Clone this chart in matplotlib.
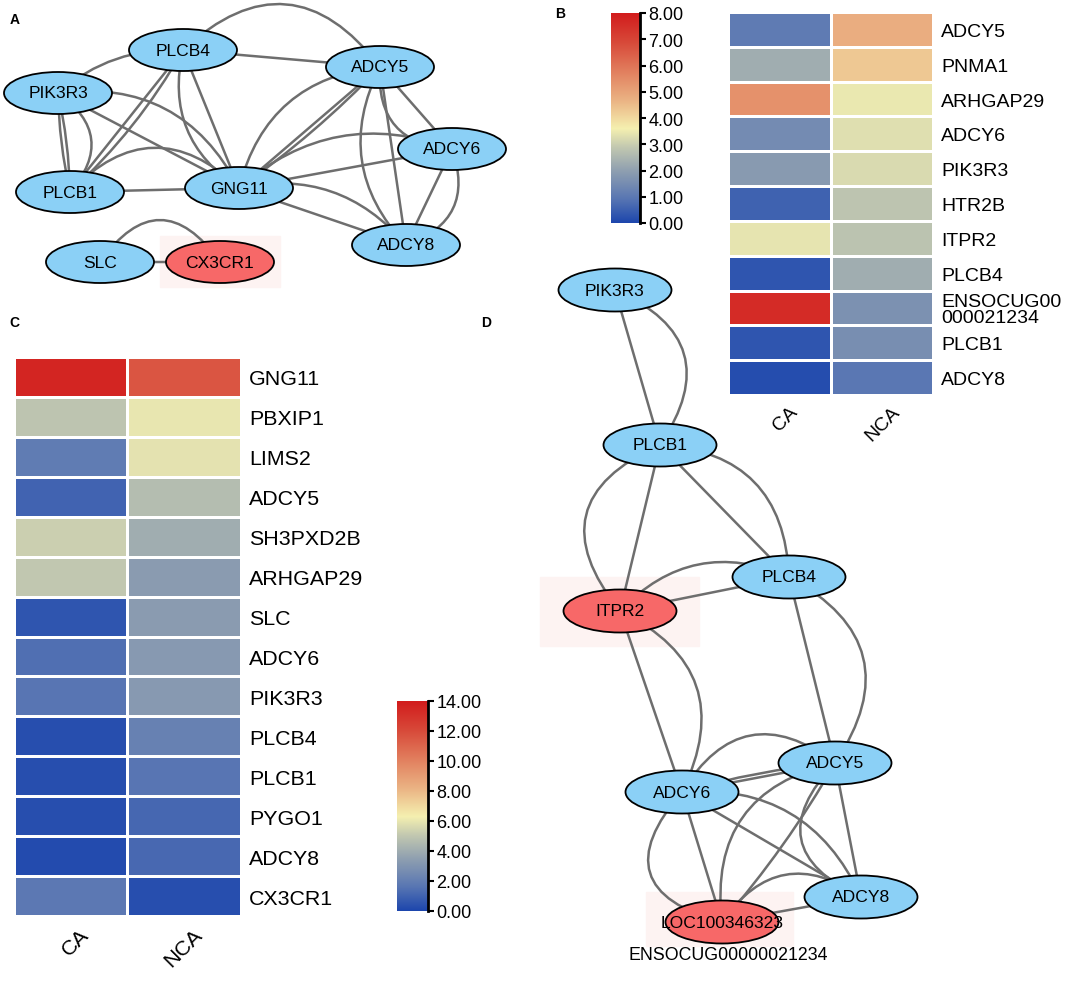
import numpy as np
import matplotlib
matplotlib.use('Agg')
from matplotlib import pyplot as plt
from matplotlib.colors import LinearSegmentedColormap
from matplotlib.patches import Ellipse, Rectangle, PathPatch
from matplotlib.path import Path
from matplotlib import transforms as mtransforms

plt.rcParams['font.family'] = ['Liberation Sans', 'DejaVu Sans']

W, H = 1084, 987

# ---- heatmap data ----
groups = ['CA', 'NCA']

genes_b = ['ADCY5', 'PNMA1', 'ARHGAP29', 'ADCY6', 'PIK3R3', 'HTR2B', 'ITPR2',
           'PLCB4', 'ENSOCUG00\n000021234', 'PLCB1', 'ADCY8']
ca_b = [1.05, 2.3, 5.4, 1.45, 1.85, 0.55, 3.4, 0.3, 7.6, 0.3, 0.15]
nca_b = [4.8, 4.3, 3.45, 3.3, 3.2, 2.8, 2.75, 2.3, 1.6, 1.55, 0.95]
ticks_b = [0, 1, 2, 3, 4, 5, 6, 7, 8]

genes_c = ['GNG11', 'PBXIP1', 'LIMS2', 'ADCY5', 'SH3PXD2B', 'ARHGAP29', 'SLC',
           'ADCY6', 'PIK3R3', 'PLCB4', 'PLCB1', 'PYGO1', 'ADCY8', 'CX3CR1']
ca_c = [13.6, 4.9, 1.9, 1.0, 5.3, 5.0, 0.5, 1.4, 1.6, 0.3, 0.3, 0.3, 0.2, 1.7]
nca_c = [11.6, 6.0, 5.9, 4.6, 4.0, 3.3, 3.3, 3.2, 3.2, 2.1, 1.6, 1.1, 1.2, 0.3]
ticks_c = [0, 2, 4, 6, 8, 10, 12, 14]

# ---- network data (layout positions in pixels) ----
nodes_a = {'PLCB4': (183, 51), 'ADCY5': (380, 68), 'PIK3R3': (58, 94),
           'ADCY6': (452, 150), 'PLCB1': (70, 193), 'GNG11': (239, 189),
           'ADCY8': (406, 246), 'SLC': (100, 263), 'CX3CR1': (220, 263)}
red_a = ['CX3CR1']
edges_a = [('PLCB4', 'ADCY5', 0), ('PLCB4', 'ADCY5', 0.55), ('PIK3R3', 'PLCB4', 0.2),
           ('PIK3R3', 'PLCB1', 0.05), ('PIK3R3', 'PLCB1', -0.05), ('PIK3R3', 'GNG11', 0.35),
           ('PIK3R3', 'GNG11', 0), ('PIK3R3', 'PLCB1', 0.55), ('PLCB4', 'PLCB1', 0),
           ('PLCB4', 'PLCB1', 0.08), ('PLCB4', 'GNG11', 0), ('PLCB4', 'GNG11', -0.35),
           ('PLCB1', 'GNG11', 0), ('PLCB1', 'GNG11', 0.5), ('ADCY5', 'GNG11', -0.35),
           ('ADCY5', 'GNG11', 0), ('ADCY5', 'GNG11', 0.05), ('ADCY6', 'GNG11', 0),
           ('ADCY6', 'GNG11', -0.3), ('GNG11', 'ADCY8', 0), ('GNG11', 'ADCY8', 0.3),
           ('ADCY5', 'ADCY6', 0), ('ADCY5', 'ADCY8', 0), ('ADCY5', 'ADCY8', -0.35),
           ('ADCY5', 'ADCY6', -0.5), ('ADCY6', 'ADCY8', 0), ('ADCY6', 'ADCY8', 0.5),
           ('SLC', 'CX3CR1', 0), ('SLC', 'CX3CR1', 0.7)]

nodes_d = {'PIK3R3': (615, 291), 'PLCB1': (660, 446), 'PLCB4': (789, 578),
           'ITPR2': (620, 612), 'ADCY5': (835, 764), 'ADCY6': (682, 793),
           'ADCY8': (861, 898), 'LOC100346323': (722, 923)}
red_d = ['ITPR2', 'LOC100346323']
edges_d = [('PIK3R3', 'PLCB1', 0), ('PIK3R3', 'PLCB1', 0.6), ('PLCB1', 'ITPR2', 0),
           ('PLCB1', 'ITPR2', -0.65), ('PLCB1', 'PLCB4', 0), ('PLCB1', 'PLCB4', 0.45),
           ('ITPR2', 'PLCB4', 0), ('ITPR2', 'PLCB4', 0.35), ('ITPR2', 'ADCY6', 0),
           ('ITPR2', 'ADCY6', 0.5), ('PLCB4', 'ADCY5', 0), ('PLCB4', 'ADCY5', 0.55),
           ('ADCY6', 'ADCY5', 0), ('ADCY6', 'ADCY5', 0.05), ('ADCY6', 'ADCY5', 0.55),
           ('ADCY6', 'ADCY8', 0), ('ADCY6', 'ADCY8', 0.35), ('ADCY6', 'LOC100346323', 0),
           ('ADCY6', 'LOC100346323', -0.8), ('ADCY5', 'LOC100346323', 0.05),
           ('ADCY5', 'LOC100346323', -0.45), ('ADCY5', 'ADCY8', 0), ('ADCY5', 'ADCY8', -0.7),
           ('ADCY8', 'LOC100346323', 0), ('LOC100346323', 'ADCY8', 0.5)]

cmap = LinearSegmentedColormap.from_list('hm', [
    (0.0, '#1d46ad'), (0.12, '#5b78b3'), (0.25, '#90a0b0'), (0.36, '#c2c8b0'),
    (0.45, '#f5f0b0'), (0.58, '#ebb585'), (0.72, '#e2805f'), (0.86, '#d84a3a'),
    (1.0, '#d21c1c')])

fig = plt.figure(figsize=(W / 100, H / 100), dpi=100)


def px_axes(x0, y0, x1, y1):
    return fig.add_axes([x0 / W, 1 - y1 / H, (x1 - x0) / W, (y1 - y0) / H])


# ---- network canvas ----
net = fig.add_axes([0, 0, 1, 1])
net.set_xlim(0, W)
net.set_ylim(H, 0)
net.axis('off')

# faint boxes behind the red nodes
net.add_patch(Rectangle((160, 237), 120, 51, color='#fdf3f2', zorder=0))
net.add_patch(Rectangle((540, 578), 159, 69, color='#fdf3f2', zorder=0))
net.add_patch(Rectangle((646, 893), 147, 54, color='#fdf3f2', zorder=0))


def draw_network(nodes, edges, reds, w, h):
    for a, b, rad in edges:
        p0 = np.array(nodes[a], float)
        p1 = np.array(nodes[b], float)
        d = p1 - p0
        ctrl = (p0 + p1) / 2 + rad * np.array([d[1], -d[0]])
        path = Path([p0, ctrl, p1], [Path.MOVETO, Path.CURVE3, Path.CURVE3])
        net.add_patch(PathPatch(path, fill=False, ec='#6e6e6e', lw=1.8, zorder=1))
    for name, (x, y) in nodes.items():
        fc = '#f76868' if name in reds else '#8bd0f6'
        net.add_patch(Ellipse((x, y), w, h, fc=fc, ec='black', lw=1.3, zorder=2))
        net.text(x, y, name, ha='center', va='center', fontsize=12.6, zorder=3)


draw_network(nodes_a, edges_a, red_a, 108, 42)
draw_network(nodes_d, edges_d, red_d, 113, 43)
net.text(728, 955, 'ENSOCUG00000021234', ha='center', va='center', fontsize=12.8)

# panel letters
for lab, x, y in [('A', 10, 20), ('B', 555, 14), ('C', 9, 323), ('D', 481, 323)]:
    net.text(x, y, lab, ha='left', va='center', fontsize=10, fontweight='bold')


# ---- heatmaps ----
def heatmap(rect, genes, ca, nca, vmax, fs, lab_dx, lab_dy):
    ax = px_axes(*rect)
    vals = np.column_stack([ca, nca])
    ax.pcolormesh(vals, cmap=cmap, vmin=0, vmax=vmax, edgecolors='white', linewidth=2)
    ax.set_xlim(0, 2)
    ax.set_ylim(len(genes), 0)
    for s in ax.spines.values():
        s.set_visible(False)
    ax.yaxis.tick_right()
    ax.set_yticks(np.arange(len(genes)) + 0.5)
    ax.set_yticklabels(genes, fontsize=fs, linespacing=0.9)
    ax.tick_params(axis='y', length=0, pad=6)
    ax.set_xticks([])
    trans = mtransforms.offset_copy(ax.get_xaxis_transform(), fig=fig,
                                    x=lab_dx, y=-lab_dy, units='dots')
    for i, g in enumerate(groups):
        ax.text(i + 0.5, 0, g, transform=trans, rotation=45, ha='right', va='top',
                rotation_mode='anchor', fontsize=fs)
    return ax


def colorbar(rect, vmax, ticks):
    cax = px_axes(*rect)
    grad = np.linspace(0, vmax, 256).reshape(-1, 1)
    cax.imshow(grad, cmap=cmap, vmin=0, vmax=vmax, aspect='auto', origin='lower',
               extent=[0, 1, 0, vmax])
    cax.set_xticks([])
    cax.yaxis.tick_right()
    cax.set_yticks(ticks)
    cax.set_yticklabels(['%.2f' % t for t in ticks], fontsize=13)
    cax.tick_params(axis='y', length=4, width=1.5, pad=2)
    for k, s in cax.spines.items():
        s.set_visible(k == 'right')
    cax.spines['right'].set_linewidth(2)


heatmap((728, 13, 933, 396), genes_b, ca_b, nca_b, 8, 14, 10, 8)
heatmap((14, 358, 241, 917), genes_c, ca_c, nca_c, 14, 15.4, 8, 8)
colorbar((611, 14, 640, 224), 8, ticks_b)
colorbar((397, 702, 428, 912), 14, ticks_c)

fig.savefig('out.png', dpi=100)
